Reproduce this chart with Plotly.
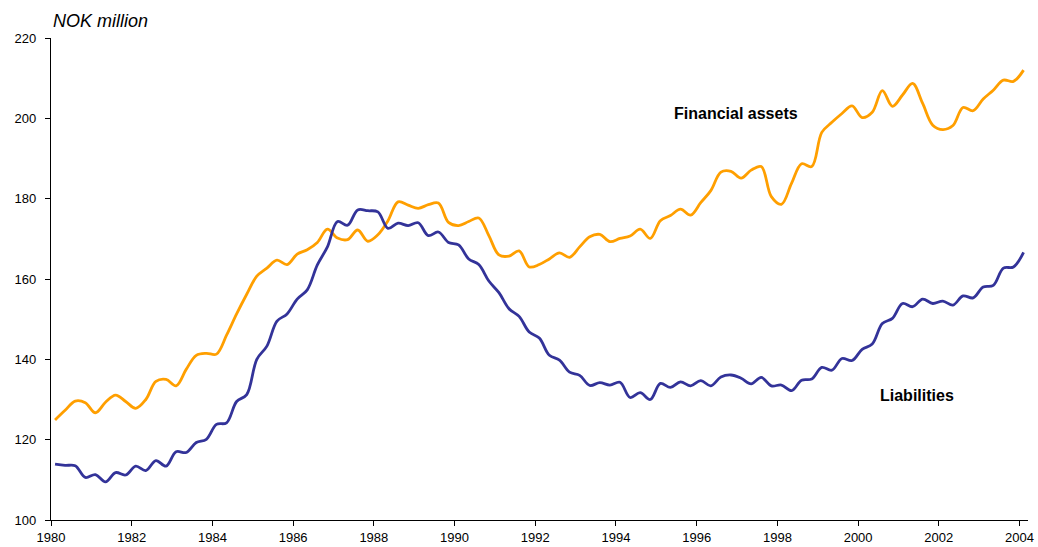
import numpy as np
import plotly.graph_objects as go

# Quarterly observations, 1980 Q1 - 2004 Q1 (plotted at mid-quarter, decimal years)
quarters = np.round(1980.1 + 0.25 * np.arange(97), 3)

financial_assets = [
    124.9, 127.3, 129.6, 129.2, 126.7, 129.3, 131.1, 129.5, 127.8, 130.0,
    134.5, 135.0, 133.4, 137.5, 141.0, 141.5, 141.3, 146.0, 151.3, 156.2,
    160.7, 162.7, 164.7, 163.6, 166.2, 167.3, 169.1, 172.4, 170.2, 169.8,
    172.2, 169.4, 171.0, 174.5, 179.2, 178.4, 177.6, 178.5, 178.9, 174.1,
    173.3, 174.3, 175.2, 170.8, 166.0, 165.7, 167.0, 163.0, 163.6, 165.0,
    166.5, 165.4, 168.0, 170.5, 171.1, 169.3, 170.1, 170.7, 172.4, 170.1,
    174.5, 175.8, 177.4, 175.9, 179.0, 182.0, 186.6, 186.8, 185.1, 187.1,
    188.0, 180.5, 178.6, 183.8, 188.7, 188.0, 196.5, 199.0, 201.2, 203.1,
    200.2, 201.5, 206.9, 203.0, 205.8, 208.7, 203.7, 198.3, 197.2, 198.2,
    202.7, 201.9, 204.8, 207.0, 209.5, 209.2, 212.0,
]

liabilities = [
    113.9, 113.6, 113.5, 110.6, 111.3, 109.5, 111.8, 111.2, 113.4, 112.3,
    114.8, 113.4, 117.0, 116.8, 119.3, 120.1, 123.8, 124.2, 129.5, 131.2,
    140.0, 143.3, 149.5, 151.3, 155.0, 157.3, 163.5, 168.0, 174.3, 173.4,
    177.2, 177.0, 176.7, 172.6, 173.9, 173.3, 174.0, 170.8, 171.7, 169.1,
    168.5, 165.0, 163.6, 159.5, 156.6, 152.6, 150.7, 146.8, 145.3, 141.0,
    139.8, 136.8, 136.0, 133.5, 134.2, 133.6, 134.3, 130.5, 131.7, 130.0,
    134.0, 133.0, 134.4, 133.4, 134.7, 133.4, 135.6, 136.1, 135.3, 133.9,
    135.5, 133.4, 133.6, 132.2, 134.8, 135.1, 138.0, 137.3, 140.2, 139.7,
    142.5, 143.8, 148.9, 150.2, 153.9, 153.1, 155.0, 153.9, 154.5, 153.5,
    155.8, 155.3, 158.0, 158.4, 162.7, 163.0, 166.6,
]

year_ticks = list(range(1980, 2005, 2))
value_ticks = list(range(100, 221, 20))

FONT = "Arial, Liberation Sans, sans-serif"
ORANGE = "#FF9F00"
NAVY = "#333399"

fig = go.Figure()
fig.add_trace(go.Scatter(
    x=quarters, y=financial_assets, mode="lines", name="Financial assets",
    line=dict(color=ORANGE, width=2.8, shape="spline", smoothing=1.0),
))
fig.add_trace(go.Scatter(
    x=quarters, y=liabilities, mode="lines", name="Liabilities",
    line=dict(color=NAVY, width=2.8, shape="spline", smoothing=1.0),
))

fig.add_annotation(x=1995.38, y=201.3, text="<b>Financial assets</b>", showarrow=False,
                   xanchor="left", yanchor="middle",
                   font=dict(family=FONT, size=16, color="#000000"))
fig.add_annotation(x=2000.5, y=131.1, text="<b>Liabilities</b>", showarrow=False,
                   xanchor="left", yanchor="middle",
                   font=dict(family=FONT, size=16, color="#000000"))
fig.add_annotation(xref="paper", yref="paper", x=0.0, y=1.0, yshift=5,
                   text="<i>NOK million</i>", showarrow=False,
                   xanchor="left", yanchor="bottom",
                   font=dict(family=FONT, size=18, color="#000000"))

fig.update_layout(
    width=1038, height=547,
    margin=dict(l=51, r=10, t=38, b=27, autoexpand=False),
    paper_bgcolor="white", plot_bgcolor="white",
    showlegend=False,
    font=dict(family=FONT, size=13, color="#000000"),
    xaxis=dict(
        range=[1980, 2004.21], tickmode="array", tickvals=year_ticks,
        ticktext=[str(y) for y in year_ticks], automargin=False,
        showgrid=False, zeroline=False, showline=True, linecolor="#000000", linewidth=1.3,
        ticks="outside", ticklen=5, tickwidth=1.3, tickcolor="#000000",
        tickfont=dict(family=FONT, size=13, color="#000000"),
    ),
    yaxis=dict(
        range=[100, 220], tickmode="array", tickvals=value_ticks, automargin=False,
        showgrid=False, zeroline=False, showline=True, linecolor="#000000", linewidth=1.3,
        ticks="outside", ticklen=5, tickwidth=1.3, tickcolor="#000000",
        ticklabelstandoff=6,
        tickfont=dict(family=FONT, size=13, color="#000000"),
    ),
)

fig.write_html("out.html")
